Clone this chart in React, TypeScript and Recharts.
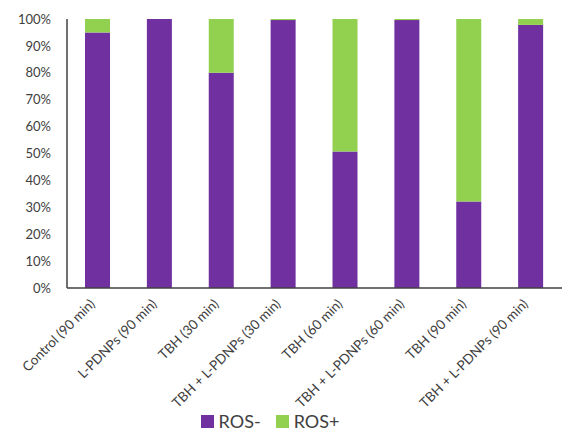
import { BarChart, Bar, XAxis, YAxis, Legend } from 'recharts'

const categories = [
  'Control (90 min)',
  'L-PDNPs (90 min)',
  'TBH (30 min)',
  'TBH + L-PDNPs (30 min)',
  'TBH (60 min)',
  'TBH + L-PDNPs (60 min)',
  'TBH (90 min)',
  'TBH + L-PDNPs (90 min)',
]
const rosNeg = [95, 100, 80, 99.6, 50.7, 99.6, 32.2, 97.8]
const rosPos = [5, 0, 20, 0.4, 49.3, 0.4, 67.8, 2.2]
const yTicks = [0, 10, 20, 30, 40, 50, 60, 70, 80, 90, 100]

const data = categories.map((name, i) => ({
  name,
  neg: rosNeg[i],
  pos: rosPos[i],
}))

const font = 'Lato, "Open Sans", sans-serif'
const series = [
  { key: 'neg', label: 'ROS-', color: '#7030A0' },
  { key: 'pos', label: 'ROS+', color: '#92D050' },
]

function XTick({ x, y, payload }: any) {
  return (
    <g transform={`translate(${x - 5},${y + 6})`}>
      <text
        transform="rotate(-45)"
        textAnchor="end"
        fontSize={13.5}
        fontFamily={font}
        fill="#404040"
        dy={4}
      >
        {payload.value}
      </text>
    </g>
  )
}

function LegendBox() {
  return (
    <div style={{ display: 'flex', justifyContent: 'center', alignItems: 'center', paddingRight: 22, fontFamily: font, fontSize: 18, color: '#404040' }}>
      {series.map((s, i) => (
        <div key={s.key} style={{ display: 'flex', alignItems: 'center', marginRight: i === 0 ? 15 : 0 }}>
          <span style={{ width: 13, height: 13, background: s.color, display: 'inline-block', marginRight: 5 }} />
          <span>{s.label}</span>
        </div>
      ))}
    </div>
  )
}

export default function App() {
  return (
    <div style={{ position: 'absolute', left: 0, top: 0, background: '#fff' }}>
      <BarChart
        width={563}
        height={432}
        data={data}
        margin={{ top: 19, right: 1, left: 0, bottom: 0 }}
      >
        <XAxis
          dataKey="name"
          interval={0}
          tickLine={false}
          axisLine={{ stroke: '#404040', strokeWidth: 1.5 }}
          tick={<XTick />}
          height={122}
        />
        <YAxis
          domain={[0, 100]}
          ticks={yTicks}
          tickFormatter={(v) => `${v}%`}
          tickLine={false}
          axisLine={{ stroke: '#404040', strokeWidth: 1.5 }}
          width={67}
          tick={{ fontSize: 13, fontFamily: font, fill: '#404040', dx: -8 }}
        />
        <Legend verticalAlign="bottom" content={<LegendBox />} wrapperStyle={{ bottom: 0 }} />
        <Bar dataKey="neg" name="ROS-" stackId="a" fill="#7030A0" barSize={25} isAnimationActive={false} />
        <Bar dataKey="pos" name="ROS+" stackId="a" fill="#92D050" barSize={25} isAnimationActive={false} />
      </BarChart>
    </div>
  )
}
